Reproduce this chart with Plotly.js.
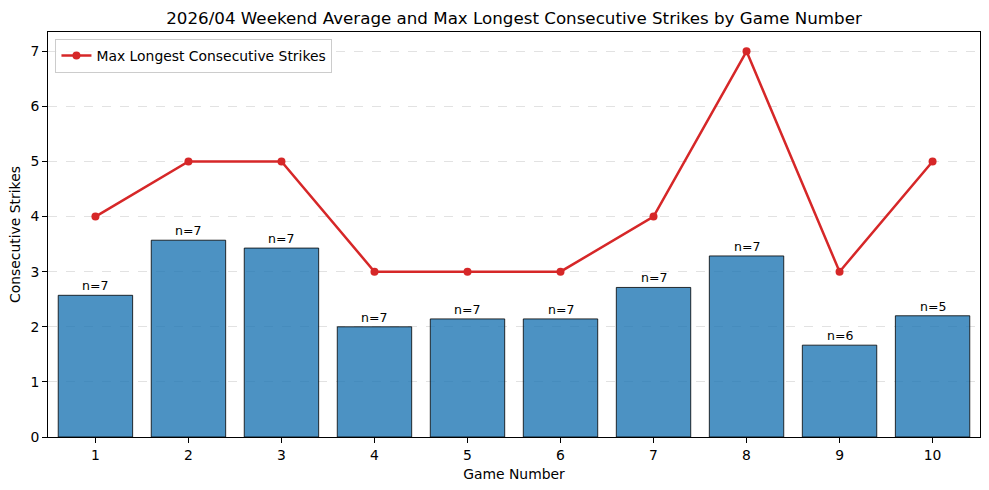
<!DOCTYPE html>
<html>
<head>
<meta charset="utf-8">
<script src="https://cdn.plot.ly/plotly-3.0.1.min.js"></script>
<style>html,body{margin:0;padding:0;background:#fff;}#chart{width:989px;height:490px;}</style>
</head>
<body>
<div id="chart"></div>
<script>
const games = [1,2,3,4,5,6,7,8,9,10];
const avgStrikes = [18/7, 25/7, 24/7, 14/7, 15/7, 15/7, 19/7, 23/7, 10/6, 11/5];
const maxStrikes = [4,5,5,3,3,3,4,7,3,5];
const counts = [7,7,7,7,7,7,7,7,6,5];
const countLabels = counts.map(n => 'n=' + n);

const font = 'DejaVu Sans, sans-serif';

const bars = {
  type: 'bar', x: games, y: avgStrikes, width: 0.8,
  marker: {color: 'rgba(31,119,180,0.8)', line: {color: 'rgba(0,0,0,0.8)', width: 1}},
  showlegend: false, hoverinfo: 'skip'
};
const line = {
  type: 'scatter', mode: 'lines+markers', x: games, y: maxStrikes,
  name: 'Max Longest Consecutive Strikes',
  line: {color: '#d62728', width: 2.5},
  marker: {color: '#d62728', size: 8}
};

const annotations = games.map((g, i) => ({
  x: g, y: avgStrikes[i], xref: 'x', yref: 'y', text: countLabels[i],
  showarrow: false, yanchor: 'bottom', yshift: 0,
  font: {family: font, size: 12.5, color: '#000'}
}));

const layout = {
  width: 989, height: 490,
  margin: {l: 48, r: 9, t: 32, b: 53},
  paper_bgcolor: '#fff', plot_bgcolor: '#fff',
  font: {family: font, size: 13.9, color: '#000'},
  title: {text: '2026/04 Weekend Average and Max Longest Consecutive Strikes by Game Number',
    font: {family: font, size: 16.7, color: '#000'}, x: 0.5, xref: 'paper', y: 0.963, yref: 'container', yanchor: 'middle'},
  xaxis: {
    range: [0.49, 10.51], tickvals: games, ticktext: games.map(String),
    ticks: 'outside', ticklen: 5, tickwidth: 1, tickcolor: '#000',
    showline: true, linecolor: '#000', linewidth: 1, mirror: true,
    showgrid: false, zeroline: false,
    tickfont: {family: font, size: 13.9, color: '#000'},
    title: {text: 'Game Number', font: {family: font, size: 13.9, color: '#000'}, standoff: 7}
  },
  yaxis: {
    range: [0, 7.35], dtick: 1, tick0: 0,
    ticks: 'outside', ticklen: 5, tickwidth: 1, tickcolor: '#000',
    showline: true, linecolor: '#000', linewidth: 1, mirror: true,
    showgrid: true, gridcolor: '#e2e2e2', griddash: 'dash', gridwidth: 1,
    zeroline: false,
    tickfont: {family: font, size: 13.9, color: '#000'},
    title: {text: 'Consecutive Strikes', font: {family: font, size: 13.9, color: '#000'}, standoff: 6}
  },
  legend: {
    x: 0.008, y: 0.983, xanchor: 'left', yanchor: 'top',
    bgcolor: 'rgba(255,255,255,0.8)', bordercolor: '#cccccc', borderwidth: 1,
    font: {family: font, size: 13.9, color: '#000'}
  },
  annotations: annotations,
  bargap: 0.2
};

Plotly.newPlot('chart', [bars, line], layout, {displayModeBar: false, staticPlot: true});
</script>
</body>
</html>
